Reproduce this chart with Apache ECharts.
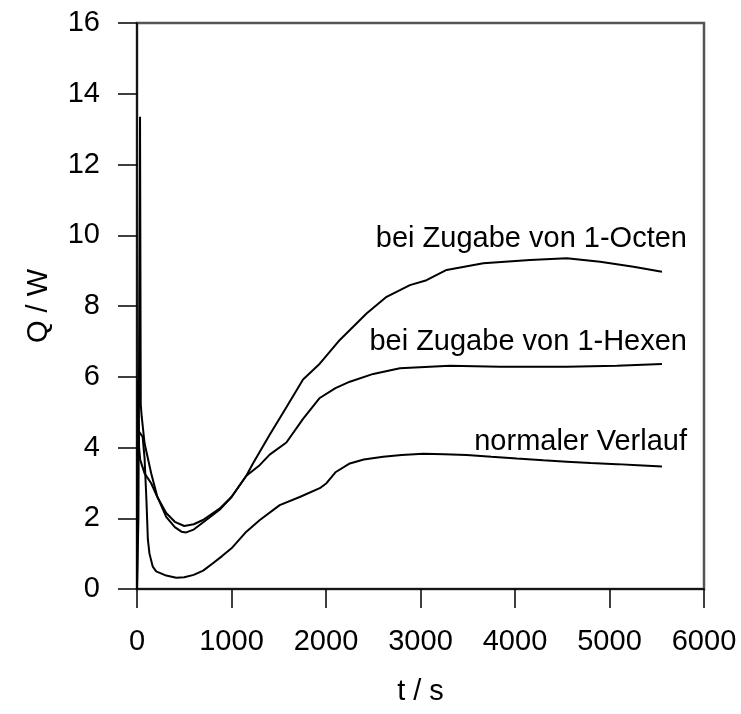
<!DOCTYPE html>
<html>
<head>
<meta charset="utf-8">
<script src="https://cdn.jsdelivr.net/npm/echarts@6/dist/echarts.min.js"></script>
<style>html,body{margin:0;padding:0;background:#fff}#c{width:741px;height:714px}</style>
</head>
<body>
<div id="c"></div>
<script>
// time (s) / heat flow Q (W)
var normalT = [0, 8, 60, 80, 100, 115, 132, 167, 203, 309, 415, 500, 600, 700, 800, 900, 1000, 1157, 1300, 1510, 1722, 1934, 2005, 2100, 2252, 2400, 2605, 2800, 3029, 3250, 3488, 3750, 4018, 4300, 4548, 4800, 5078, 5300, 5555];
var normalQ = [0, 4.5, 4.3, 3.7, 2.5, 1.4, 1.0, 0.63, 0.5, 0.38, 0.32, 0.33, 0.4, 0.52, 0.72, 0.93, 1.15, 1.62, 1.95, 2.37, 2.6, 2.85, 2.99, 3.3, 3.55, 3.66, 3.74, 3.79, 3.82, 3.81, 3.79, 3.74, 3.69, 3.64, 3.6, 3.56, 3.53, 3.5, 3.46];

var hexenT = [0, 10, 22, 34, 80, 150, 215, 309, 400, 500, 600, 698, 874, 1000, 1157, 1298, 1404, 1581, 1757, 1934, 2100, 2252, 2500, 2782, 3311, 3841, 4548, 5078, 5555];
var hexenQ = [0, 5.9, 4.0, 3.65, 3.27, 2.99, 2.6, 2.15, 1.9, 1.78, 1.83, 1.95, 2.27, 2.6, 3.2, 3.5, 3.8, 4.14, 4.81, 5.4, 5.68, 5.86, 6.08, 6.24, 6.31, 6.28, 6.28, 6.31, 6.36];

var octenT = [0, 15, 32, 40, 50, 80, 150, 215, 309, 400, 470, 520, 600, 698, 874, 1000, 1157, 1227, 1404, 1581, 1757, 1934, 2146, 2429, 2641, 2888, 3064, 3276, 3665, 4159, 4548, 4901, 5254, 5555];
var octenQ = [0, 2, 13.35, 5.2, 4.87, 4.12, 3.27, 2.61, 2.04, 1.75, 1.62, 1.6, 1.68, 1.88, 2.24, 2.6, 3.2, 3.55, 4.36, 5.14, 5.92, 6.37, 7.04, 7.79, 8.26, 8.59, 8.73, 9.02, 9.21, 9.30, 9.35, 9.25, 9.11, 8.97];

// annotation texts anchored at their right end (data coordinates)
var labelTexts = ['bei Zugabe von 1-Octen', 'bei Zugabe von 1-Hexen', 'normaler Verlauf'];
var labelT = [5820, 5820, 5820];
var labelQ = [9.89, 6.98, 4.16];

var xTicks = [0, 1000, 2000, 3000, 4000, 5000, 6000];
var yTicks = [0, 2, 4, 6, 8, 10, 12, 14, 16];

function zip(a, b) { return a.map(function (v, i) { return [v, b[i]]; }); }

var FONT = "'Liberation Sans', Arial, sans-serif";
var lineStyle = { color: '#000', width: 2 };

var chart = echarts.init(document.getElementById('c'));
chart.setOption({
  animation: false,
  backgroundColor: '#fff',
  grid: { left: 137, right: 37, top: 23, bottom: 125, show: true, borderColor: '#555', borderWidth: 2.5, backgroundColor: 'transparent' },
  xAxis: {
    type: 'value', min: xTicks[0], max: xTicks[xTicks.length - 1], interval: 1000,
    name: 't / s', nameLocation: 'middle', nameGap: 88,
    nameTextStyle: { fontFamily: FONT, fontSize: 29, color: '#000' },
    axisLine: { show: true, lineStyle: { color: '#000', width: 1.5 } },
    axisTick: { show: true, inside: false, length: 19, lineStyle: { color: '#000', width: 1.5 } },
    axisLabel: { fontFamily: FONT, fontSize: 29, color: '#000', margin: 38, formatter: function (v) { return String(v); } },
    splitLine: { show: false }
  },
  yAxis: {
    type: 'value', min: yTicks[0], max: yTicks[yTicks.length - 1], interval: 2,
    name: 'Q / W', nameLocation: 'middle', nameGap: 84, nameRotate: 90,
    nameTextStyle: { fontFamily: FONT, fontSize: 29, color: '#000' },
    axisLine: { show: true, lineStyle: { color: '#000', width: 1.5 } },
    axisTick: { show: true, inside: false, length: 19, lineStyle: { color: '#000', width: 1.5 } },
    axisLabel: { fontFamily: FONT, fontSize: 29, color: '#000', margin: 37, formatter: function (v) { return String(v); } },
    splitLine: { show: false }
  },
  series: [
    { type: 'line', data: zip(normalT, normalQ), showSymbol: false, smooth: false, lineStyle: lineStyle, silent: true },
    { type: 'line', data: zip(hexenT, hexenQ), showSymbol: false, smooth: false, lineStyle: lineStyle, silent: true },
    { type: 'line', data: zip(octenT, octenQ), showSymbol: false, smooth: false, lineStyle: lineStyle, silent: true },
    {
      type: 'scatter', symbolSize: 0, silent: true,
      data: labelTexts.map(function (s, i) { return { value: [labelT[i], labelQ[i]], name: s }; }),
      label: { show: true, position: 'left', distance: 0, formatter: function (p) { return p.name; },
        fontFamily: FONT, fontSize: 29, color: '#000', textBorderWidth: 0, opacity: 1 },
      itemStyle: { opacity: 1 }
    }
  ]
});
</script>
</body>
</html>
